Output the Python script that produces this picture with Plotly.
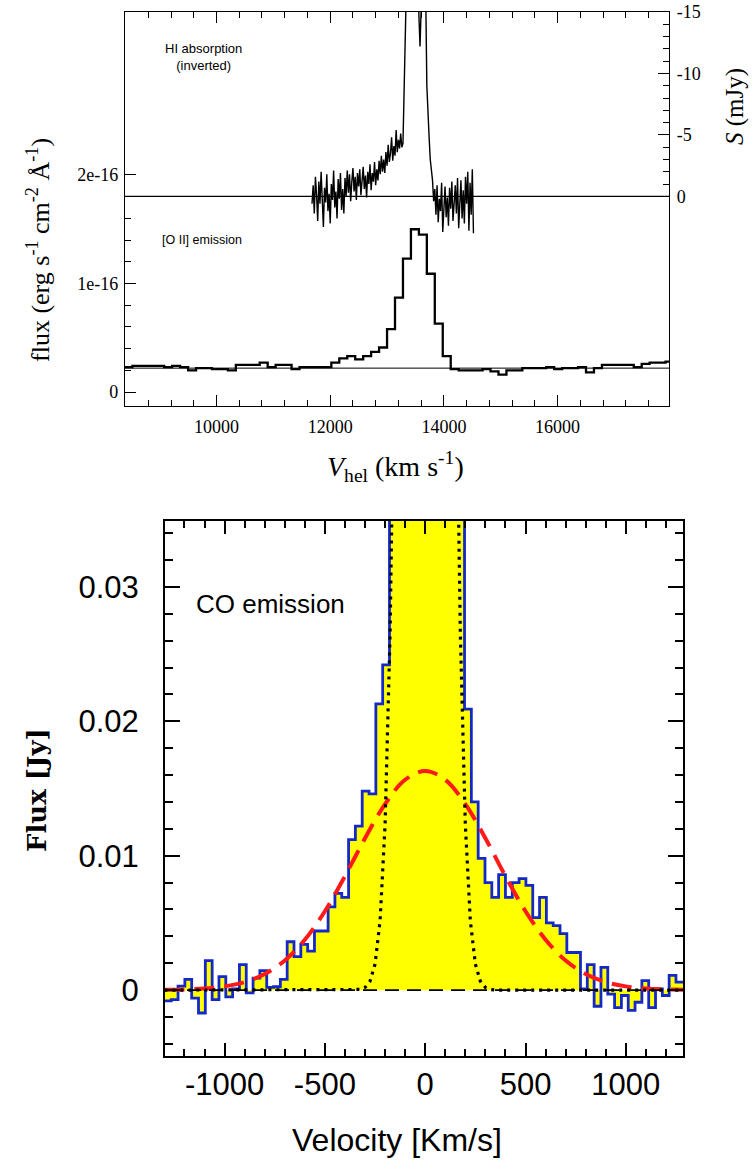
import plotly.graph_objects as go

# ---------------- DATA ----------------
# Top panel: HI absorption (inverted), S in mJy, heliocentric velocity (km/s)
hi_vel = [
    11680, 11700, 11720, 11740, 11760, 11780, 11800, 11820, 11840, 11860,
    11880, 11900, 11920, 11940, 11960, 11980, 12000, 12020, 12040, 12060,
    12080, 12100, 12120, 12140, 12160, 12180, 12200, 12220, 12240, 12260,
    12280, 12300, 12320, 12340, 12360, 12380, 12400, 12420, 12440, 12460,
    12480, 12500, 12520, 12540, 12560, 12580, 12600, 12620, 12640, 12660,
    12680, 12700, 12720, 12740, 12760, 12780, 12800, 12820, 12840, 12860,
    12880, 12900, 12920, 12940, 12960, 12980, 13000, 13020, 13040, 13060,
    13080, 13100, 13120, 13140, 13160, 13180, 13200, 13220, 13240, 13260,
    13280, 13300, 13320, 13340, 13360, 13380, 13400, 13420, 13440, 13460,
    13480, 13500, 13520, 13540, 13560, 13580, 13600, 13620, 13640, 13660,
    13680, 13700, 13720, 13740, 13760, 13780, 13800, 13820, 13840, 13860,
    13880, 13900, 13920, 13940, 13960, 13980, 14000, 14020, 14040, 14060,
    14080, 14100, 14120, 14140, 14160, 14180, 14200, 14220, 14240, 14260,
    14280, 14300, 14320, 14340, 14360, 14380, 14400, 14420, 14440, 14460,
    14480, 14500, 14520,
]
hi_flux_mjy = [
    # 11680 - 12300
    0.6, -0.9, 1.4, -1.6, -0.1, 2.0, -1.2, 0.6, -2.0, 0.1,
    2.5, -0.7, 0.5, -1.8, 1.2, -0.2, 2.2, -1.0, 0.3, -2.1,
    0.9, -0.4, 1.8, -1.4, 0.2, -1.9, 1.1, -0.6, 1.4, -1.5,
    0.0, -2.1,
    # 12320 - 12800
    -0.3, -1.8, 0.4, -1.2, -2.3, -0.4, -1.6, 0.3, -1.9, -0.8,
    -2.2, -0.1, -1.5, -2.4, -0.6, -1.7, 0.1, -2.0, -1.0, -2.6,
    -0.5, -1.9, -1.2, -2.8, -0.9,
    # 12820 - 13260
    -2.2, -1.3, -2.9, -1.8, -3.3, -2.0, -3.0, -1.9, -3.6, -2.5,
    -4.2, -2.8, -3.5, -4.8, -2.9, -4.1, -3.3, -5.4, -3.6, -4.6,
    -3.9, -5.1, -4.0,
    # 13280 - 13780 (deep narrow absorption)
    -4.3, -12.0, -25.0, -28.0, -29.0, -30.0, -30.0, -29.0, -28.0, -27.0,
    -25.0, -23.0, -20.0, -17.0, -15.5, -12.2, -15.3, -16.0, -15.2, -16.0,
    -16.5, -9.0, -6.2, -4.8, -3.0, -2.0,
    # 13800 - 14520
    -1.3, 0.4, -0.6, 1.5, -0.9, 2.1, 0.2, 1.2, -1.1, 2.9,
    0.5, -0.8, 1.7, 0.1, 2.4, -0.7, 1.0, -1.2, 2.0, 0.3,
    -0.9, 1.4, -1.5, 2.6, 0.0, -1.3, 1.8, -0.5, 2.2, -1.6,
    0.6, -2.0, 2.8, -1.1, 1.5, -2.2, 3.0,
]

# Top panel: [O II] emission, binned (left bin edges), flux in units of 1e-16 erg/s/cm2/A
oii_vel = [
    8380, 8520, 8660, 8800, 8940, 9080, 9220, 9360, 9500, 9640,
    9780, 9920, 10060, 10200, 10340, 10480, 10620, 10760, 10900, 11040,
    11180, 11320, 11460, 11600, 11740, 11880, 12020, 12160, 12300, 12440,
    12580, 12720, 12860, 13000, 13140, 13280, 13420, 13560, 13700, 13840,
    13980, 14120, 14260, 14400, 14540, 14680, 14820, 14960, 15100, 15240,
    15380, 15520, 15660, 15800, 15940, 16080, 16220, 16360, 16500, 16640,
    16780, 16920, 17060, 17200, 17340, 17480, 17620, 17760, 17900, 18040,
]
oii_flux = [
    0.23, 0.24, 0.24, 0.24, 0.24, 0.23, 0.24, 0.23, 0.20, 0.22,
    0.22, 0.21, 0.21, 0.20, 0.25, 0.25, 0.25, 0.27, 0.23, 0.25,
    0.25, 0.21, 0.23, 0.23, 0.23, 0.23, 0.27, 0.31, 0.33, 0.30,
    0.33, 0.37, 0.41, 0.58, 0.87, 1.23, 1.50, 1.45, 1.09, 0.63,
    0.33, 0.21, 0.20, 0.20, 0.20, 0.21, 0.19, 0.16, 0.20, 0.20,
    0.22, 0.22, 0.22, 0.23, 0.21, 0.22, 0.22, 0.23, 0.18, 0.22,
    0.25, 0.25, 0.25, 0.25, 0.23, 0.26, 0.27, 0.27, 0.28, 0.28,
]
oii_continuum = 0.22
hi_zero = 0.0

# Bottom panel: CO emission, binned (left bin edges), flux in Jy
co_vel = [
    -1300, -1266, -1232, -1198, -1164, -1130, -1096, -1062, -1028, -994,
    -960, -926, -892, -858, -824, -790, -756, -722, -688, -654,
    -620, -586, -552, -518, -484, -450, -416, -382, -348, -314,
    -280, -246, -212, -178, -144, -110, -76, -42, -8, 26,
    60, 94, 128, 162, 196, 230, 264, 298, 332, 366,
    400, 434, 468, 502, 536, 570, 604, 638, 672, 706,
    740, 774, 808, 842, 876, 910, 944, 978, 1012, 1046,
    1080, 1114, 1148, 1182, 1216, 1250, 1284, 1318,
]
co_flux = [
    -0.0008, -0.0007, 0.0003, 0.0008, -0.0006, -0.0017, 0.0022, -0.0007, 0.0010, -0.0005,
    0.0001, 0.0019, -0.0002, 0.0009, 0.00145, 0.0002, 0.00025, 0.0008, 0.0036, 0.0025,
    0.0034, 0.0029, 0.0044, 0.0044, 0.0062, 0.0072, 0.0069, 0.0112, 0.0122, 0.0148,
    0.0146, 0.0213, 0.0242, 0.055, 0.10, 0.17, 0.24, 0.30, 0.32, 0.29,
    0.22, 0.15, 0.09, 0.05, 0.0209, 0.0140, 0.0098, 0.0080, 0.0069, 0.0086,
    0.0069, 0.0080, 0.0083, 0.0078, 0.0054, 0.0069, 0.0050, 0.0048, 0.0042, 0.0028,
    0.0028, 0.0001, 0.0019, -0.0012, 0.0017, -0.0003, -0.0013, -0.0004, -0.0015, -0.0009,
    0.0007, -0.0013, 0.0001, -0.0004, 0.0011, 0.0006, 0.0006, 0.0006,
]

# Broad component (red dashed)
broad_vel = [-1300, -1200, -1100, -1000, -900, -800, -700, -600, -500, -400, -300, -200, -100,
             0, 100, 200, 300, 400, 500, 600, 700, 800, 900, 1000, 1100, 1200, 1300]
broad_flux = [0.00002, 0.00005, 0.00012, 0.00028, 0.0006, 0.0012, 0.0022, 0.00375, 0.00587, 0.00848,
              0.0113, 0.01384, 0.01565, 0.0163, 0.01565, 0.01384, 0.0113, 0.00848, 0.00587,
              0.00375, 0.0022, 0.0012, 0.0006, 0.00028, 0.00012, 0.00005, 0.00002]

# Narrow component (black dotted)
narrow_vel = [-1300, -400, -350, -325, -300, -275, -250, -225, -200, -175, -150, -125, -100, -75, -50, -25,
              0, 25, 50, 75, 100, 125, 150, 175, 200, 225, 250, 275, 300, 325, 350, 400, 1300]
narrow_flux = [0.0, 0.0, 0.00001, 0.00005, 0.0002, 0.00066, 0.00194, 0.00515, 0.0123, 0.0266, 0.0519,
               0.091, 0.145, 0.208, 0.269, 0.313, 0.33, 0.313, 0.269, 0.208, 0.145, 0.091, 0.0519,
               0.0266, 0.0123, 0.00515, 0.00194, 0.00066, 0.0002, 0.00005, 0.00001, 0.0, 0.0]

# tick values
top_x_ticks = [10000, 12000, 14000, 16000]
top_x_ticktext = ["10000", "12000", "14000", "16000"]
top_x_minor = [8800, 9200, 9600, 10400, 10800, 11200, 11600, 12400, 12800, 13200, 13600,
               14400, 14800, 15200, 15600, 16400, 16800, 17200, 17600]
top_y_ticks = [0, 1, 2]
top_y_ticktext = ["0", "1e-16", "2e-16"]
top_y_minor = [0.2, 0.4, 0.6, 0.8, 1.2, 1.4, 1.6, 1.8]
right_ticks = [0, -5, -10, -15]
right_ticktext = ["0", "-5", "-10", "-15"]
right_minor = [-1, -2, -3, -4, -6, -7, -8, -9, -11, -12, -13, -14]
co_y_ticks = [0, 0.01, 0.02, 0.03]
co_y_ticktext = ["0", "0.01", "0.02", "0.03"]
co_y_minor = [-0.004, -0.002, 0.002, 0.004, 0.006, 0.008, 0.012, 0.014, 0.016, 0.018,
              0.022, 0.024, 0.026, 0.028, 0.032, 0.034]
co_x_ticks = [-1000, -500, 0, 500, 1000]
co_x_ticktext = ["-1000", "-500", "0", "500", "1000"]
co_x_minor = [-1200, -1100, -900, -800, -700, -600, -400, -300, -200, -100,
              100, 200, 300, 400, 600, 700, 800, 900, 1100, 1200]

# ---------------- FIGURE ----------------
W, H = 752, 1169


def fx(p):
    return p / W


def fy(p):
    return 1 - p / H


SERIF = "Liberation Serif"
SANS = "Liberation Sans"
TICKC = "black"

TOP_XR = [8390, 17960]
TOP_YR = [-0.129, 3.502]
TOP_Y2R = [17.06, -15.0]
BOT_XR = [-1297, 1285]
BOT_YR = [-0.0049, 0.0349]

fig = go.Figure()

fig.add_trace(go.Scatter(
    x=oii_vel, y=oii_flux, mode="lines", line_shape="hv",
    line=dict(color="black", width=2.3), xaxis="x", yaxis="y", showlegend=False))

fig.add_trace(go.Scatter(
    x=hi_vel, y=hi_flux_mjy, mode="lines",
    line=dict(color="black", width=1.4), xaxis="x", yaxis="y2", showlegend=False))

fig.add_trace(go.Scatter(
    x=co_vel, y=co_flux, mode="lines", line_shape="hv", fill="tozeroy",
    fillcolor="#ffff00", line=dict(color="#1428c8", width=2.8),
    xaxis="x2", yaxis="y3", showlegend=False))

fig.add_trace(go.Scatter(
    x=broad_vel, y=broad_flux, mode="lines", line_shape="spline",
    line=dict(color="#ff1a1a", width=4, dash="20px,10px"),
    xaxis="x2", yaxis="y3", showlegend=False))

fig.add_trace(go.Scatter(
    x=narrow_vel, y=narrow_flux, mode="lines",
    line=dict(color="black", width=3.2, dash="3px,5px"),
    xaxis="x2", yaxis="y3", showlegend=False))

# invisible anchors so the mirror-tick axes get drawn
fig.add_trace(go.Scatter(x=[oii_vel[0]], y=[oii_flux[0]], mode="markers", marker=dict(opacity=0),
                         xaxis="x3", yaxis="y", showlegend=False, hoverinfo="skip"))
fig.add_trace(go.Scatter(x=[co_vel[0]], y=[co_flux[0]], mode="markers", marker=dict(opacity=0),
                         xaxis="x4", yaxis="y3", showlegend=False, hoverinfo="skip"))
fig.add_trace(go.Scatter(x=[co_vel[0]], y=[co_flux[0]], mode="markers", marker=dict(opacity=0),
                         xaxis="x2", yaxis="y4", showlegend=False, hoverinfo="skip"))

axis_common = dict(showgrid=False, zeroline=False, showline=True, linecolor="black",
                   ticks="inside", tickcolor=TICKC, automargin=False, layer="above traces")

top_font = dict(family=SERIF, size=18, color="black")
bot_font = dict(family=SANS, size=31, color="black")


def mnr(vals, ln, wd):
    return dict(ticks="inside", ticklen=ln, tickmode="array", tickvals=vals, tickcolor=TICKC, tickwidth=wd)


fig.update_layout(
    width=W, height=H,
    margin=dict(l=0, r=0, t=0, b=0, autoexpand=False),
    paper_bgcolor="white", plot_bgcolor="white",
    xaxis=dict(
        **axis_common, domain=[fx(125), fx(669)], anchor="y",
        range=TOP_XR, linewidth=1.3, mirror=True,
        tickmode="array", tickvals=top_x_ticks, ticktext=top_x_ticktext, ticklen=11, tickwidth=1.3,
        tickfont=top_font, ticklabelstandoff=4, minor=mnr(top_x_minor, 6, 1.3),
    ),
    xaxis3=dict(
        **axis_common, overlaying="x", side="top", anchor="y",
        range=TOP_XR, linewidth=1.3, showticklabels=False,
        tickmode="array", tickvals=top_x_ticks, ticklen=11, tickwidth=1.3,
        minor=mnr(top_x_minor, 6, 1.3),
    ),
    yaxis=dict(
        **axis_common, domain=[fy(406), fy(12)], anchor="x",
        range=TOP_YR, linewidth=1.3, mirror=True,
        tickmode="array", tickvals=top_y_ticks, ticktext=top_y_ticktext,
        ticklen=11, tickwidth=1.3, tickfont=top_font, ticklabelstandoff=2,
        minor=mnr(top_y_minor, 6, 1.3),
    ),
    yaxis2=dict(
        **axis_common, overlaying="y", side="right", anchor="x",
        range=TOP_Y2R, linewidth=1.3,
        tickmode="array", tickvals=right_ticks, ticktext=right_ticktext,
        ticklen=11, tickwidth=1.3, tickfont=top_font, ticklabelstandoff=3,
        minor=mnr(right_minor, 6, 1.3),
    ),
    xaxis2=dict(
        **axis_common, domain=[fx(165), fx(683)], anchor="y3",
        range=BOT_XR, linewidth=2, mirror=True,
        tickmode="array", tickvals=co_x_ticks, ticktext=co_x_ticktext,
        ticklen=13, tickwidth=2, tickfont=bot_font, ticklabelstandoff=0,
        minor=mnr(co_x_minor, 7, 1.7),
    ),
    xaxis4=dict(
        **axis_common, overlaying="x2", side="top", anchor="y3",
        range=BOT_XR, linewidth=2, showticklabels=False,
        tickmode="array", tickvals=co_x_ticks, ticklen=13, tickwidth=2,
        minor=mnr(co_x_minor, 7, 1.7),
    ),
    yaxis3=dict(
        **axis_common, domain=[fy(1056), fy(521)], anchor="x2",
        range=BOT_YR, linewidth=2, mirror=True,
        tickmode="array", tickvals=co_y_ticks, ticktext=co_y_ticktext,
        ticklen=15, tickwidth=2, tickfont=bot_font, ticklabelstandoff=18,
        minor=mnr(co_y_minor, 8, 1.7),
    ),
    yaxis4=dict(
        **axis_common, overlaying="y3", side="right", anchor="x2",
        range=BOT_YR, linewidth=2, showticklabels=False,
        tickmode="array", tickvals=co_y_ticks, ticklen=15, tickwidth=2,
        minor=mnr(co_y_minor, 8, 1.7),
    ),
    shapes=[
        dict(type="line", xref="x domain", yref="y", x0=0, x1=1, y0=oii_continuum, y1=oii_continuum,
             line=dict(color="black", width=1)),
        dict(type="line", xref="x domain", yref="y2", x0=0, x1=1, y0=hi_zero, y1=hi_zero,
             line=dict(color="black", width=1.3)),
        dict(type="line", xref="x2 domain", yref="y3", x0=0, x1=1, y0=0, y1=0,
             line=dict(color="black", width=1.6, dash="14px,8px")),
    ],
    annotations=[
        dict(text="<i>V</i><sub>hel</sub> (km s<sup>-1</sup>)", xref="paper", yref="paper",
             x=fx(395), y=fy(466), showarrow=False, xanchor="center", yanchor="middle",
             font=dict(family=SERIF, size=28, color="black")),
        dict(text="flux (erg s<sup>-1</sup> cm<sup>-2</sup> Å<sup>-1</sup>)", xref="paper", yref="paper",
             x=fx(39), y=fy(250), showarrow=False, textangle=-90, xanchor="center", yanchor="middle",
             font=dict(family=SERIF, size=26, color="black")),
        dict(text="<i>S</i> (mJy)", xref="paper", yref="paper",
             x=fx(735), y=fy(107), showarrow=False, textangle=-90, xanchor="center", yanchor="middle",
             font=dict(family=SERIF, size=25, color="black")),
        dict(text="HI absorption<br>(inverted)", xref="paper", yref="paper",
             x=fx(203), y=fy(57), showarrow=False, xanchor="center", yanchor="middle", align="center",
             font=dict(family=SANS, size=13, color="black")),
        dict(text="[O II] emission", xref="paper", yref="paper",
             x=fx(160), y=fy(240), showarrow=False, xanchor="left", yanchor="middle",
             font=dict(family=SANS, size=12.5, color="black")),
        dict(text="CO emission", xref="paper", yref="paper",
             x=fx(194), y=fy(604), showarrow=False, xanchor="left", yanchor="middle",
             font=dict(family=SANS, size=26, color="black")),
        dict(text="<b>Flux [Jy]</b>", xref="paper", yref="paper",
             x=fx(37), y=fy(790), showarrow=False, textangle=-90, xanchor="center", yanchor="middle",
             font=dict(family="DejaVu Serif", size=26, color="black")),
        dict(text="Velocity [Km/s]", xref="paper", yref="paper",
             x=fx(397), y=fy(1140), showarrow=False, xanchor="center", yanchor="middle",
             font=dict(family=SANS, size=32, color="black")),
    ],
)

fig.write_html("out.html")
